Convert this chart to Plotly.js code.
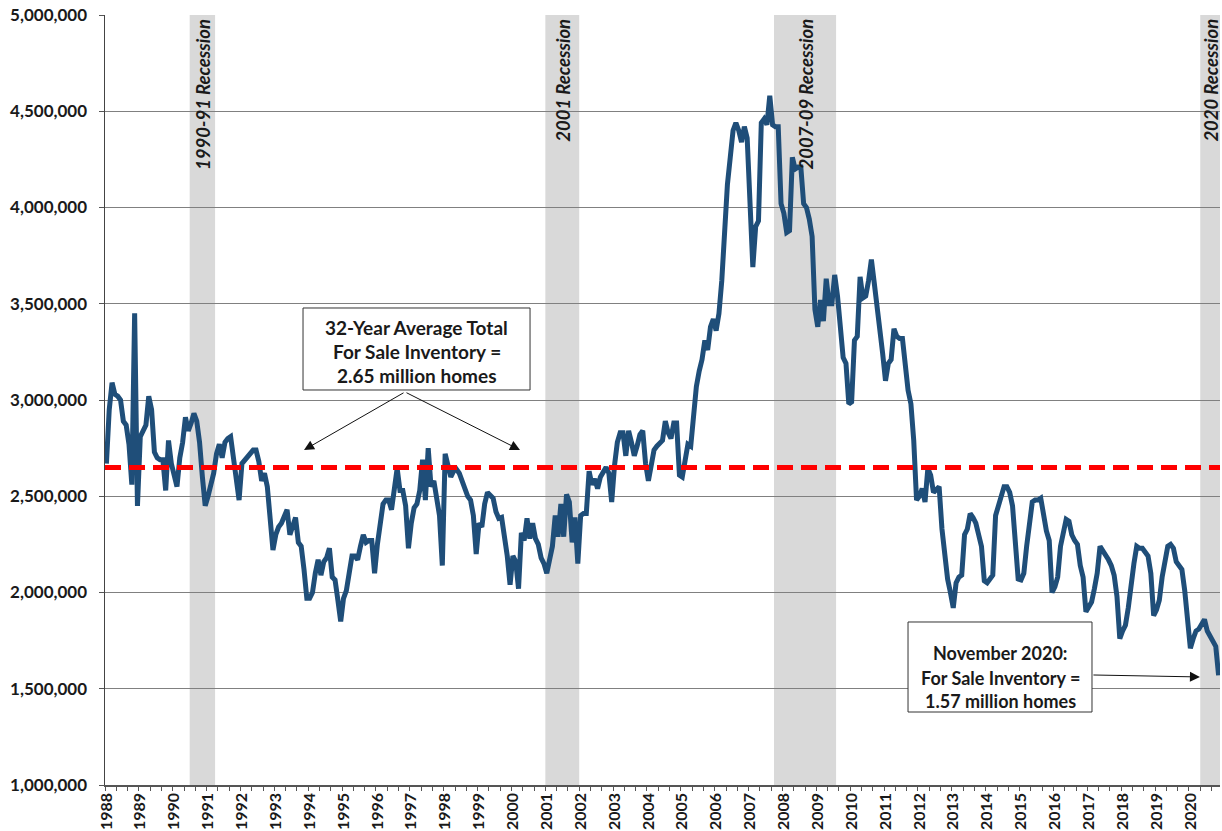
<!DOCTYPE html>
<html>
<head>
<meta charset="utf-8">
<script src="https://cdn.plot.ly/plotly-3.0.1.min.js"></script>
<style>
  html, body { margin: 0; padding: 0; background: #ffffff; }
  #chart { width: 1222px; height: 831px; }
</style>
</head>
<body>
<div id="chart"></div>
<script>
// Total existing homes for sale, monthly, in thousands of units (Jan 1988 - Nov 2020)
const inv1988to1991 = [
  2670, 2950, 3090, 3030, 3020, 3000, 2890, 2870, 2770, 2560, 3450, 2450,
  2810, 2840, 2870, 3020, 2950, 2730, 2700, 2690, 2690, 2530, 2790, 2670,
  2600, 2550, 2700, 2780, 2910, 2840, 2880, 2930, 2890, 2780, 2600, 2450,
  2500, 2550, 2620, 2720, 2770, 2700, 2780, 2800, 2810, 2700, 2570, 2480
];
const inv1992to1995 = [
  2670, 2690, 2700, 2720, 2740, 2740, 2680, 2580, 2620, 2550, 2350, 2220,
  2300, 2340, 2360, 2400, 2430, 2300, 2340, 2390, 2260, 2240, 2120, 1970,
  1970, 2000, 2100, 2170, 2090, 2160, 2180, 2230, 2080, 2065, 1960, 1850,
  1970, 2010, 2100, 2190, 2190, 2170, 2240, 2300, 2260, 2270, 2270, 2100
];
const inv1996to1999 = [
  2250, 2340, 2460, 2480, 2480, 2430, 2520, 2645, 2530, 2530, 2450, 2230,
  2360, 2440, 2460, 2530, 2690, 2480, 2750, 2550, 2580, 2500, 2400, 2140,
  2720, 2660, 2600, 2630, 2640, 2620, 2580, 2550, 2500, 2480, 2400, 2200,
  2360, 2340, 2460, 2520, 2500, 2490, 2420, 2385, 2390, 2290, 2190, 2040
];
const inv2000to2003 = [
  2190, 2160, 2020, 2310, 2270, 2385, 2280, 2360, 2280, 2250, 2180, 2150,
  2100, 2170, 2240, 2400, 2290, 2460, 2290, 2510, 2470, 2260, 2390, 2150,
  2400, 2410, 2410, 2630, 2560, 2590, 2540, 2600, 2630, 2650, 2620, 2470,
  2660, 2780, 2830, 2830, 2710, 2840, 2780, 2710, 2760, 2820, 2840, 2670
];
const inv2004to2007 = [
  2580, 2660, 2740, 2760, 2780, 2790, 2890, 2830, 2800, 2880, 2880, 2610,
  2600, 2700, 2770, 2760, 2930, 3070, 3150, 3210, 3310, 3260, 3380, 3420,
  3360, 3450, 3620, 3920, 4120, 4260, 4400, 4440, 4400, 4340, 4420, 4360,
  4060, 3690, 3900, 3930, 4440, 4460, 4430, 4580, 4430, 4420, 4420, 4020
];
const inv2008to2011 = [
  3970, 3870, 3880, 4260, 4200, 4210, 4210, 4020, 4000, 3940, 3850, 3470,
  3380, 3520, 3410, 3630, 3500, 3500, 3650, 3540, 3380, 3220, 3190, 2980,
  2990, 3310, 3330, 3640, 3530, 3540, 3620, 3730, 3610, 3500, 3390, 3240,
  3100, 3190, 3210, 3370, 3330, 3320, 3320, 3170, 3050, 2980, 2790, 2480
];
const inv2012to2015 = [
  2500, 2540, 2470, 2645, 2610, 2520, 2540, 2550, 2330, 2190, 2070, 2000,
  1920, 2050, 2080, 2090, 2300, 2330, 2410, 2390, 2360, 2300, 2240, 2060,
  2050, 2070, 2090, 2400, 2450, 2500, 2550, 2550, 2520, 2450, 2260, 2070,
  2065, 2100, 2240, 2350, 2470, 2480, 2480, 2490, 2400, 2320, 2270, 2000
];
const inv2016to2019 = [
  2030, 2080, 2240, 2310, 2380, 2370, 2300, 2270, 2250, 2140, 2080, 1900,
  1920, 1950, 2020, 2100, 2240, 2220, 2200, 2170, 2140, 2090, 1980, 1760,
  1800, 1830, 1920, 2060, 2150, 2240, 2230, 2230, 2210, 2190, 2100, 1880,
  1910, 1960, 2080, 2170, 2240, 2250, 2230, 2160, 2140, 2120, 2010, 1820
];
const inv2020 = [1710, 1760, 1800, 1810, 1840, 1860, 1800, 1770, 1750, 1720, 1570];

// Year tick labels, one per January
const yearLabels = [
  '1988', '1989', '1990', '1991', '1992', '1993', '1994', '1995', '1996', '1997', '1998',
  '1999', '2000', '2001', '2002', '2003', '2004', '2005', '2006', '2007', '2008', '2009',
  '2010', '2011', '2012', '2013', '2014', '2015', '2016', '2017', '2018', '2019', '2020'
];

// Shaded recession periods (first and last shaded month)
const recessionLabels = ['1990-91 Recession', '2001 Recession', '2007-09 Recession', '2020 Recession'];
const recessionFirstMonth = ['1990-07', '2001-01', '2007-10', '2020-05'];
const recessionLastMonth = ['1991-03', '2001-12', '2009-07', '2020-11'];

// 32-year average of the series
const averageInventory = 2650000;
const averageText = ['32-Year Average Total', 'For Sale Inventory =', '2.65 million homes'];
const latestText = ['November 2020:', 'For Sale Inventory =', '1.57 million homes'];

const forSale = [].concat(
  inv1988to1991, inv1992to1995, inv1996to1999, inv2000to2003,
  inv2004to2007, inv2008to2011, inv2012to2015, inv2016to2019, inv2020
).map(v => v * 1000);

const START_YEAR = 1988;
const monthIndex = s => {
  const [y, m] = s.split('-').map(Number);
  return (y - START_YEAR) * 12 + (m - 1);
};
const months = forSale.map((_, i) => i);
const yearTicks = yearLabels.map(y => monthIndex(y + '-01'));

const FONT = 'Lato, "Open Sans", "DejaVu Sans", sans-serif';
const TEXT = '#1a1a1a';

const trace = {
  type: 'scatter',
  mode: 'lines',
  x: months,
  y: forSale,
  line: { color: '#1f4e79', width: 5 },
  hoverinfo: 'skip'
};

const shapes = [];
recessionLabels.forEach((_, i) => {
  shapes.push({
    type: 'rect', layer: 'between',
    xref: 'x', yref: 'paper',
    x0: monthIndex(recessionFirstMonth[i]) - 0.5,
    x1: monthIndex(recessionLastMonth[i]) + 0.5,
    y0: 0, y1: 1,
    fillcolor: '#d9d9d9', line: { width: 0 }
  });
});
// average line
shapes.push({
  type: 'line', layer: 'above',
  xref: 'paper', yref: 'y',
  x0: 0, x1: 1, y0: averageInventory, y1: averageInventory,
  line: { color: '#ff0000', width: 5, dash: '16px,8px' }
});
// callout boxes
shapes.push({
  type: 'rect', layer: 'above', xref: 'paper', yref: 'paper',
  x0: 0.1776, x1: 0.3812, y0: 0.513, y1: 0.6195,
  fillcolor: '#ffffff', line: { color: '#333333', width: 1 }
});
shapes.push({
  type: 'rect', layer: 'above', xref: 'paper', yref: 'paper',
  x0: 0.7202, x1: 0.8852, y0: 0.0948, y1: 0.2117,
  fillcolor: '#ffffff', line: { color: '#333333', width: 1 }
});

const annotations = [];
recessionLabels.forEach((label, i) => {
  annotations.push({
    xref: 'x', yref: 'paper',
    x: (monthIndex(recessionFirstMonth[i]) + monthIndex(recessionLastMonth[i])) / 2,
    y: 1, yshift: -2,
    xanchor: 'center', yanchor: 'top',
    textangle: -90,
    text: '<b><i>' + label + '</i></b>',
    showarrow: false,
    font: { family: FONT, size: 18.5, color: TEXT }
  });
});
const boxLineY1 = [0.5948, 0.5636, 0.5312];
averageText.forEach((t, i) => {
  annotations.push({
    xref: 'paper', yref: 'paper', x: 0.2794, y: boxLineY1[i],
    xanchor: 'center', yanchor: 'middle', showarrow: false,
    text: '<b>' + t + '</b>',
    font: { family: FONT, size: 19, color: TEXT }
  });
});
const boxLineY2 = [0.1714, 0.139, 0.1091];
latestText.forEach((t, i) => {
  annotations.push({
    xref: 'paper', yref: 'paper', x: 0.8027, y: boxLineY2[i],
    xanchor: 'center', yanchor: 'middle', showarrow: false,
    text: '<b>' + t + '</b>',
    font: { family: FONT, size: 18, color: TEXT }
  });
});
// arrows
const arrow = (x, y, ax, ay) => ({
  xref: 'paper', yref: 'paper', x: x, y: y, ax: ax, ay: ay,
  text: '', showarrow: true, arrowhead: 2, arrowsize: 2, arrowwidth: 1,
  arrowcolor: '#111111', standoff: 0, startstandoff: 0
});
annotations.push(arrow(0.1785, 0.4351, 101, -58));
annotations.push(arrow(0.3722, 0.4351, -115, -58));
annotations.push(arrow(0.982, 0.1403, -108, -2));

const layout = {
  width: 1222,
  height: 831,
  margin: { l: 105, r: 2, t: 15, b: 46, pad: 0 },
  paper_bgcolor: '#ffffff',
  plot_bgcolor: '#ffffff',
  showlegend: false,
  font: { family: FONT, color: TEXT },
  xaxis: {
    range: [-0.5, forSale.length - 0.5],
    tickmode: 'array',
    tickvals: yearTicks,
    ticktext: yearLabels,
    tickangle: -90,
    ticks: 'outside', ticklen: 0,
    tickfont: { family: FONT, size: 16, weight: 700, color: TEXT },
    minor: { tick0: -0.5, dtick: 4, ticks: 'outside', ticklen: 4, tickwidth: 1, tickcolor: '#555555', showgrid: false },
    showgrid: false,
    zeroline: false,
    showline: true, linecolor: '#555555', linewidth: 1.5,
    fixedrange: true
  },
  yaxis: {
    range: [1000000, 5000000],
    tick0: 0, dtick: 500000,
    tickformat: ',d',
    ticks: 'outside', ticklen: 5, tickcolor: '#555555',
    ticklabelstandoff: 8,
    tickfont: { family: FONT, size: 17, weight: 700, color: TEXT },
    showgrid: true, gridcolor: '#808080', gridwidth: 1,
    zeroline: false,
    showline: true, linecolor: '#444444', linewidth: 1.5,
    fixedrange: true
  },
  shapes: shapes,
  annotations: annotations
};

Plotly.newPlot('chart', [trace], layout, { displayModeBar: false, staticPlot: true });
</script>
</body>
</html>
